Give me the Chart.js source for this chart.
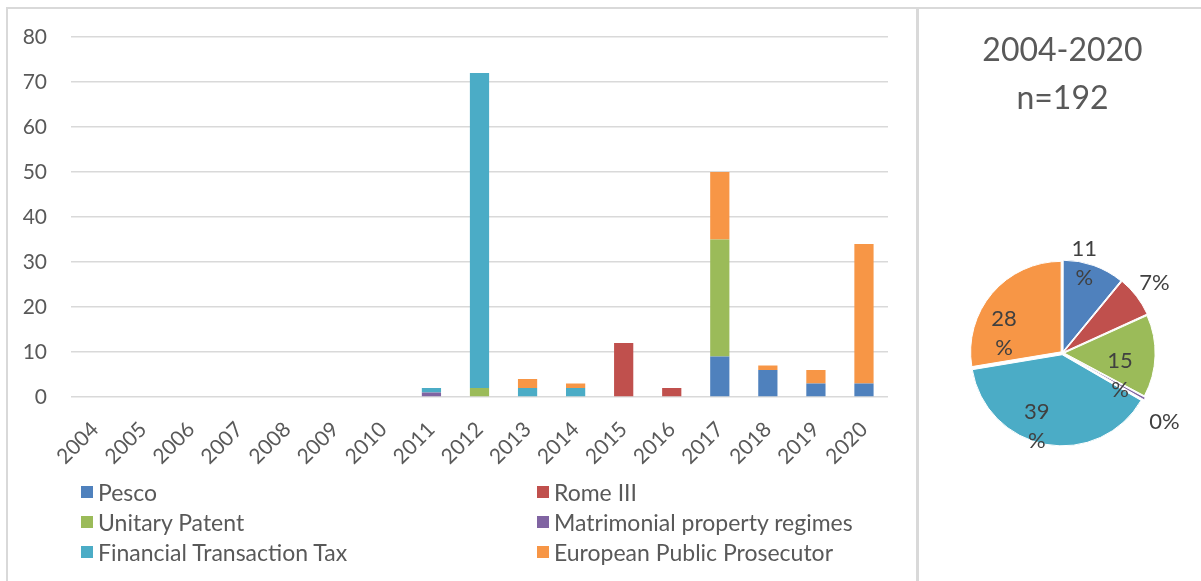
<!DOCTYPE html>
<html>
<head>
<meta charset="utf-8">
<script src="https://cdn.jsdelivr.net/npm/chart.js@4.4.1/dist/chart.umd.min.js"></script>
<style>
    body { margin: 0; background: #fff; font-family: Lato, sans-serif; }
    #page { position: relative; width: 1201px; height: 581px; overflow: hidden; }
    #frame { position: absolute; left: 6px; top: 7px; width: 1300px; height: 700px;
        border-left: 2px solid #d9d9d9; border-top: 2px solid #d9d9d9; }
    #divider { position: absolute; left: 916px; top: 8px; width: 3px; height: 600px; background: #d9d9d9; }
    #barBox { position: absolute; left: 0; top: 0; width: 917px; height: 497px; }
    #pieBox { position: absolute; left: 919px; top: 9px; width: 282px; height: 572px; }
    #legend { position: absolute; left: 81px; top: 480px; display: grid;
        grid-template-columns: 456px 360px; row-gap: 7px; color: #595959; font-size: 23px; }
    #legend div { display: flex; align-items: center; height: 23px; }
    #legend span.box { width: 12px; height: 12px; margin-right: 5px; display: inline-block; }
</style>
</head>
<body>
<div id="page">
    <div id="frame"></div>
    <div id="divider"></div>
    <div id="barBox"><canvas id="barChart"></canvas></div>
    <div id="pieBox"><canvas id="pieChart"></canvas></div>
    <div id="legend"></div>
</div>
<script>
// Years on the x axis
const years = ['2004', '2005', '2006', '2007', '2008', '2009', '2010', '2011', '2012',
    '2013', '2014', '2015', '2016', '2017', '2018', '2019', '2020'];

// Cases per year, one array per instrument
const pesco =       [0, 0, 0, 0, 0, 0, 0, 0, 0, 0, 0, 0, 0, 9, 6, 3, 3];
const romeIII =     [0, 0, 0, 0, 0, 0, 0, 0, 0, 0, 0, 12, 2, 0, 0, 0, 0];
const unitaryPatent = [0, 0, 0, 0, 0, 0, 0, 0, 2, 0, 0, 0, 0, 26, 0, 0, 0];
const matrimonial = [0, 0, 0, 0, 0, 0, 0, 1, 0, 0, 0, 0, 0, 0, 0, 0, 0];
const ftt =         [0, 0, 0, 0, 0, 0, 0, 1, 70, 2, 2, 0, 0, 0, 0, 0, 0];
const epp =         [0, 0, 0, 0, 0, 0, 0, 0, 0, 2, 1, 0, 0, 15, 1, 3, 31];

const seriesNames = ['Pesco', 'Rome III', 'Unitary Patent', 'Matrimonial property regimes',
    'Financial Transaction Tax', 'European Public Prosecutor'];
const seriesColors = ['#4F81BD', '#C0504D', '#9BBB59', '#8064A2', '#4BACC6', '#F79646'];
const seriesValues = [pesco, romeIII, unitaryPatent, matrimonial, ftt, epp];

// Y axis ticks
const yMax = 80;
const yStep = 10;

// Pie: totals over the whole period and the printed percentages
const pieTitle = ['2004-2020', 'n=192'];
const pieLabels = ['11%', '7%', '15%', '0%', '39%', '28%'];
const pieTotals = seriesValues.map(arr => arr.reduce((a, b) => a + b, 0));

const textColor = '#595959';
const gridColor = '#d9d9d9';

// Bar chart
new Chart(document.getElementById('barChart'), {
    type: 'bar',
    data: {
        labels: years,
        datasets: seriesNames.map((name, i) => ({
            label: name,
            data: seriesValues[i],
            backgroundColor: seriesColors[i],
            borderWidth: 0
        }))
    },
    options: {
        responsive: true,
        maintainAspectRatio: false,
        animation: false,
        layout: { padding: { top: 37, right: 29, left: 0, bottom: 0 } },
        plugins: { legend: { display: false }, tooltip: { enabled: false } },
        datasets: { bar: { categoryPercentage: 1, barPercentage: 0.4 } },
        scales: {
            x: {
                stacked: true,
                grid: { display: false },
                border: { display: false },
                ticks: {
                    color: textColor,
                    font: { family: 'Lato', size: 21 },
                    minRotation: 45,
                    maxRotation: 45,
                    autoSkip: false,
                    padding: 12
                },
                // fixed height keeps the zero line at the same place
                afterFit: scale => { scale.height = 100; }
            },
            y: {
                stacked: true,
                min: 0,
                max: yMax,
                grid: { color: gridColor, lineWidth: 1.5, drawTicks: false },
                border: { display: false },
                ticks: {
                    stepSize: yStep,
                    color: textColor,
                    font: { family: 'Lato', size: 21 },
                    padding: 24
                },
                afterFit: scale => { scale.width = 71; }
            }
        }
    }
});

// Percentage labels around the pie
const pieLabelPlugin = {
    id: 'pieLabelPlugin',
    afterDatasetsDraw(chart, args, opts) {
        const ctx = chart.ctx;
        const meta = chart.getDatasetMeta(0);
        ctx.save();
        ctx.fillStyle = opts.color;
        ctx.font = opts.size + 'px Lato';
        ctx.textAlign = 'center';
        ctx.textBaseline = 'middle';
        meta.data.forEach((arc, i) => {
            const mid = (arc.startAngle + arc.endAngle) / 2 + opts.shift[i] * Math.PI / 180;
            const r = arc.outerRadius * opts.radius[i];
            const x = arc.x + Math.cos(mid) * r;
            const y = arc.y + Math.sin(mid) * r;
            const text = pieLabels[i];
            if (text.length > 2) {
                // narrow label box: number and % sign on separate lines
                ctx.fillText(text.slice(0, -1), x, y - opts.lineHeight / 2);
                ctx.fillText('%', x, y + opts.lineHeight / 2);
            } else {
                ctx.fillText(text, x, y);
            }
        });
        ctx.restore();
    }
};

new Chart(document.getElementById('pieChart'), {
    type: 'pie',
    data: {
        labels: seriesNames,
        datasets: [{
            data: pieTotals,
            backgroundColor: seriesColors,
            borderColor: '#ffffff',
            borderWidth: 1,
            offset: 7
        }]
    },
    options: {
        responsive: true,
        maintainAspectRatio: false,
        animation: false,
        layout: { padding: { left: 49, right: 44, top: 0, bottom: 17 } },
        plugins: {
            legend: { display: false },
            tooltip: { enabled: false },
            title: {
                display: true,
                text: pieTitle,
                color: textColor,
                font: { family: 'Lato', size: 32, weight: 'normal', lineHeight: 1.5 },
                padding: { top: 18, bottom: 19 }
            },
            pieLabelPlugin: {
                color: '#404040',
                size: 22,
                lineHeight: 29,
                radius: [1.02, 1.28, 0.68, 1.36, 0.86, 0.68],
                shift: [-6, 0, 19, 5, 9, -22]
            }
        }
    },
    plugins: [pieLabelPlugin]
});

// Two-column legend under the bar chart
const legend = document.getElementById('legend');
seriesNames.forEach((name, i) => {
    const item = document.createElement('div');
    item.innerHTML = '<span class="box" style="background:' + seriesColors[i] + '"></span>' + name;
    legend.appendChild(item);
});
</script>
</body>
</html>
